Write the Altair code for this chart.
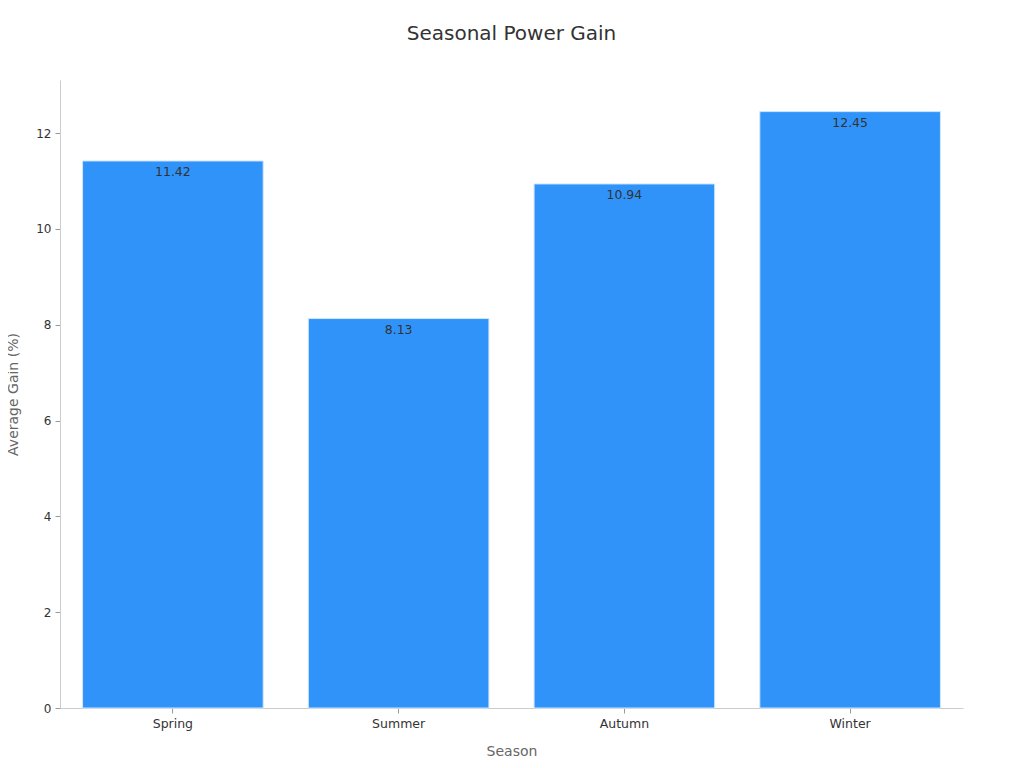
import altair as alt
import pandas as pd

seasons = ["Spring", "Summer", "Autumn", "Winter"]
gains = [11.42, 8.13, 10.94, 12.45]
labels = ["11.42", "8.13", "10.94", "12.45"]

df = pd.DataFrame({"Season": seasons, "Gain": gains, "Label": labels})

FONT = "DejaVu Sans"

base = alt.Chart(df).encode(
    x=alt.X("Season:N", sort=seasons, title="Season",
            scale=alt.Scale(paddingInner=0.2, paddingOuter=0.1),
            axis=alt.Axis(labelAngle=0, labelFontSize=12.5, labelColor="#333333",
                          labelFont=FONT, labelPadding=4,
                          tickColor="#999999", tickSize=5,
                          domainColor="#cccccc",
                          titleFont=FONT, titleFontSize=14, titleColor="#666666",
                          titleFontWeight="normal", titlePadding=15)),
    y=alt.Y("Gain:Q", title="Average Gain (%)",
            scale=alt.Scale(domain=[0, 13.11], nice=False),
            axis=alt.Axis(values=[0, 2, 4, 6, 8, 10, 12], grid=False,
                          labelFontSize=12, labelColor="#333333", labelFont=FONT,
                          tickColor="#999999", tickSize=5, labelPadding=4,
                          domainColor="#cccccc",
                          titleFont=FONT, titleFontSize=14, titleColor="#666666",
                          titleFontWeight="normal", titlePadding=15)),
)

bars = base.mark_bar(color="#2f93fa", stroke="#cfe6ff", strokeWidth=1)

text = base.mark_text(baseline="top", dy=5, font=FONT, fontSize=12.5,
                      color="#333333").encode(text="Label:N")

chart = (bars + text).properties(
    width=903, height=628,
    title=alt.TitleParams("Seasonal Power Gain", font=FONT, fontSize=20,
                          fontWeight="normal", color="#333333", offset=36),
    autosize=alt.AutoSizeParams(type="none"),
    padding={"left": 52, "top": 72, "right": 45, "bottom": 52},
).configure_view(stroke=None)

chart.save("out.html", embed_options={"renderer": "svg", "actions": False})
